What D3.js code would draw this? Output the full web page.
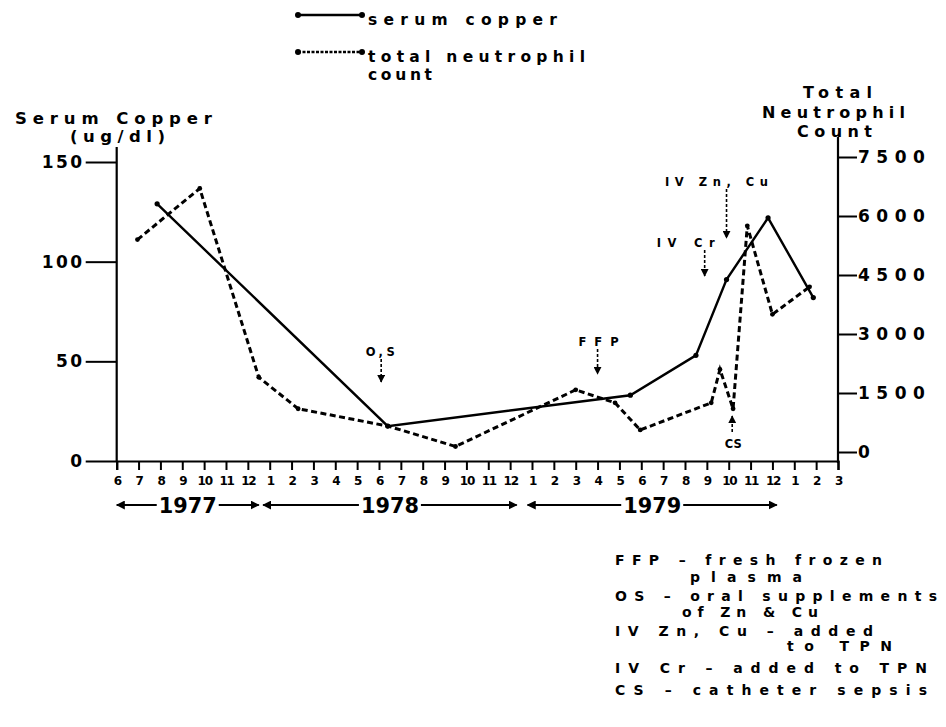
<!DOCTYPE html>
<html><head><meta charset="utf-8">
<script src="https://cdn.jsdelivr.net/npm/d3@7"></script>
<style>
html,body{margin:0;padding:0;background:#fff;}
svg{display:block;font-family:"DejaVu Sans",Arial,sans-serif;font-weight:bold;}
svg text{font-weight:bold;fill:#000;}
</style></head><body>
<svg id="chart" width="946" height="727"></svg>
<script>
// ---- data (month index counted from June 1977 = 0) ----
const monthLabels = ["6","7","8","9","10","11","12","1","2","3","4","5","6","7","8","9","10","11","12","1","2","3","4","5","6","7","8","9","10","11","12","1","2","3"];
const copperMonth = [1.85, 12.4, 23.5, 26.5, 27.9, 29.8, 31.87];
const copperValue = [129, 17.5, 33, 53, 91, 122, 82];
const neutroMonth = [0.95, 3.8, 6.5, 8.3, 12.4, 15.5, 21.0, 22.8, 23.95, 27.2, 27.6, 28.2, 28.85, 30.0, 31.7];
const neutroValue = [5400, 6700, 1900, 1100, 660, 140, 1580, 1250, 560, 1250, 2100, 1100, 5750, 3500, 4200];
const copperTicks = [0, 50, 100, 150];
const neutroTicks = [0, 1500, 3000, 4500, 6000, 7500];
const years = [{label:"1977", from:0, to:6.5}, {label:"1978", from:6.7, to:18.3}, {label:"1979", from:18.8, to:30.2}];
const events = [
  {label:"O,S", month:12.1, top:"above", y1:356, y2:382, w:29, dx:-1},
  {label:"FFP", month:22.0, top:"above", y1:346, y2:374, w:40, dx:1},
  {label:"IV Zn, Cu", month:27.9, top:"above", y1:186, y2:238, w:103, dx:-10},
  {label:"IV Cr", month:26.9, top:"above", y1:247, y2:276, w:58, dx:-19},
  {label:"CS", month:28.16, top:"below", y1:434, y2:416, w:17, dx:1}
];
const notes = [
  {t:"FFP – fresh frozen", x:615, y:565, w:267},
  {t:"plasma", x:690, y:582, w:112},
  {t:"OS – oral supplements", x:615, y:601, w:322},
  {t:"of Zn & Cu", x:682, y:617, w:136},
  {t:"IV Zn, Cu – added", x:615, y:636, w:258},
  {t:"to TPN", x:787, y:651, w:105},
  {t:"IV Cr – added to TPN", x:615, y:673, w:312},
  {t:"CS – catheter sepsis", x:615, y:695, w:312}
];

const svg = d3.select("#chart");
svg.append("rect").attr("width",946).attr("height",727).attr("fill","#fff");

const x = d3.scaleLinear().domain([0, 33]).range([116.7, 838]);
const yL = d3.scaleLinear().domain([0, 150]).range([461, 162]);
const yR = d3.scaleLinear().domain([0, 7500]).range([452, 157]);

svg.append("defs").append("marker").attr("id","ah").attr("viewBox","0 0 10 10")
  .attr("refX",9).attr("refY",5).attr("markerWidth",5).attr("markerHeight",5).attr("orient","auto-start-reverse")
  .append("path").attr("d","M0,0 L10,5 L0,10 z").attr("fill","#000");

const FF = "DejaVu Sans, Arial, sans-serif";

// left axis
const gL = svg.append("g").attr("transform","translate(116.7,0)")
  .call(d3.axisLeft(yL).tickValues(copperTicks).tickSize(31).tickPadding(1));
gL.select(".domain").remove();
gL.selectAll(".tick line").attr("stroke","#000").attr("stroke-width",2);
gL.selectAll(".tick text").attr("font-size",17).attr("font-family",FF).style("letter-spacing","2.5px");
svg.append("line").attr("x1",116.7).attr("x2",116.7).attr("y1",147).attr("y2",462).attr("stroke","#000").attr("stroke-width",2.2);

// right axis
const gR = svg.append("g").attr("transform","translate(838,0)")
  .call(d3.axisRight(yR).tickValues(neutroTicks).tickFormat(d3.format("d")).tickSize(19).tickPadding(1));
gR.select(".domain").remove();
gR.selectAll(".tick line").attr("stroke","#000").attr("stroke-width",2);
gR.selectAll(".tick text").attr("font-size",17).attr("font-family",FF).style("letter-spacing","6.5px");
svg.append("line").attr("x1",838).attr("x2",838).attr("y1",137).attr("y2",463).attr("stroke","#000").attr("stroke-width",2.2);

// bottom axis
const gB = svg.append("g").attr("transform","translate(0,461)")
  .call(d3.axisBottom(x).tickValues(d3.range(monthLabels.length)).tickFormat(i => monthLabels[i]).tickSize(9).tickPadding(6));
gB.select(".domain").attr("stroke","#000").attr("stroke-width",2.2);
gB.selectAll(".tick line").attr("stroke","#000").attr("stroke-width",2);
gB.selectAll(".tick text").attr("font-size",12).attr("font-family",FF).style("letter-spacing","-1.3px");

// year arrows
years.forEach(yv => {
  const x1 = x(yv.from), x2 = x(yv.to), cx = (x1 + x2) / 2;
  const tw = 58;
  svg.append("text").attr("x", cx).attr("y", 513).attr("text-anchor","middle").attr("font-family",FF)
    .attr("font-size",21).attr("textLength",tw).attr("lengthAdjust","spacingAndGlyphs").text(yv.label);
  svg.append("line").attr("x1",cx - tw/2 - 2).attr("x2",x1).attr("y1",505).attr("y2",505)
    .attr("stroke","#000").attr("stroke-width",1.8).attr("marker-end","url(#ah)");
  svg.append("line").attr("x1",cx + tw/2 + 2).attr("x2",x2).attr("y1",505).attr("y2",505)
    .attr("stroke","#000").attr("stroke-width",1.8).attr("marker-end","url(#ah)");
});

// series
const copper = copperMonth.map((m,i) => [m, copperValue[i]]);
const neutro = neutroMonth.map((m,i) => [m, neutroValue[i]]);
svg.append("path").datum(copper).attr("fill","none").attr("stroke","#000").attr("stroke-width",2.4)
  .attr("d", d3.line().x(d => x(d[0])).y(d => yL(d[1])));
svg.append("path").datum(neutro).attr("fill","none").attr("stroke","#000").attr("stroke-width",3)
  .attr("stroke-dasharray","6,3.5").attr("d", d3.line().x(d => x(d[0])).y(d => yR(d[1])));
svg.selectAll(".pc").data(copper).join("circle").attr("cx",d=>x(d[0])).attr("cy",d=>yL(d[1])).attr("r",2.6).attr("fill","#000");
svg.selectAll(".pn").data(neutro).join("circle").attr("cx",d=>x(d[0])).attr("cy",d=>yR(d[1])).attr("r",2.4).attr("fill","#000");

// event annotations
events.forEach(e => {
  const ex = x(e.month);
  const ty = e.top === "above" ? e.y1 : e.y1 + 14;
  svg.append("text").attr("x", ex + e.dx).attr("y", ty).attr("text-anchor","middle").attr("font-size",11.5).attr("font-family",FF)
    .attr("textLength", e.w).attr("lengthAdjust","spacing").text(e.label);
  svg.append("line").attr("x1",ex).attr("x2",ex).attr("y1", e.top === "above" ? e.y1 + 3 : e.y1 - 2).attr("y2",e.y2)
    .attr("stroke","#000").attr("stroke-width",1.6).attr("stroke-dasharray","3,2").attr("marker-end","url(#ah)");
});

// axis titles
function txt(t, xx, yy, w, fs) {
  const el = svg.append("text").attr("x",xx).attr("y",yy).attr("font-size",fs).attr("font-family",FF).text(t);
  if (w) el.attr("textLength",w).attr("lengthAdjust","spacing");
  return el;
}
txt("Serum Copper", 15, 124, 197, 16.5);
txt("(ug/dl)", 70, 142, 95, 16.5);
txt("Total", 803, 98, 69, 16);
txt("Neutrophil", 762, 118, 143, 16);
txt("Count", 797, 137, 75, 16);

// top legend
svg.append("line").attr("x1",298).attr("x2",362).attr("y1",15).attr("y2",15).attr("stroke","#000").attr("stroke-width",2.4);
svg.append("line").attr("x1",298).attr("x2",362).attr("y1",52).attr("y2",52).attr("stroke","#000").attr("stroke-width",2.4).attr("stroke-dasharray","3,1.5");
[[298,15],[362,15],[298,52],[362,52]].forEach(p => svg.append("circle").attr("cx",p[0]).attr("cy",p[1]).attr("r",3).attr("fill","#000"));
txt("serum copper", 368, 25, 189, 15.5);
txt("total neutrophil", 368, 62, 217, 15.5);
txt("count", 368, 80, 64, 15.5);

// bottom notes
notes.forEach(n => txt(n.t, n.x, n.y, n.w, 14));
</script>
</body></html>
